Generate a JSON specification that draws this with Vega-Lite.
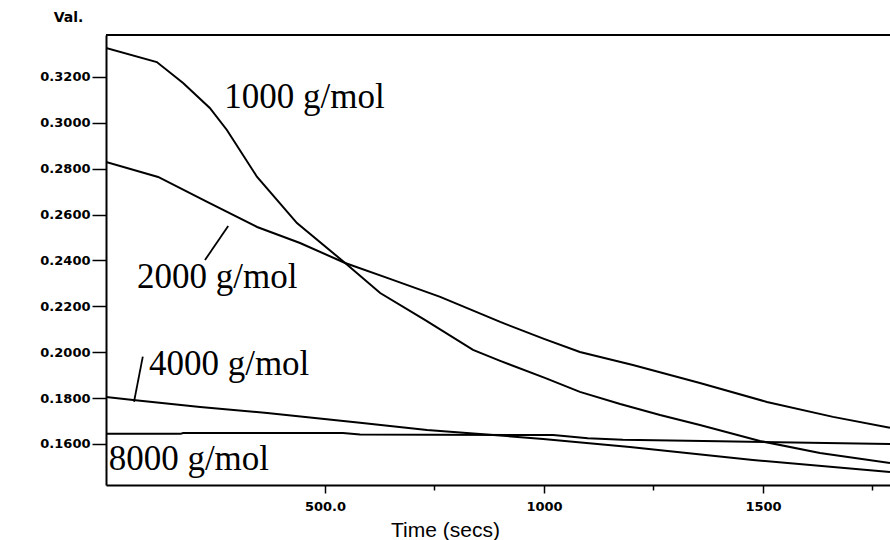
{
  "$schema": "https://vega.github.io/schema/vega-lite/v6.json",
  "autosize": {"type": "none"},
  "padding": {"left": 106, "top": 35, "right": 0, "bottom": 55},
  "width": 784,
  "height": 450,
  "background": "white",
  "config": {"view": {"stroke": null}},
  "datasets": {
    "curves": [
      {"t": 0, "v": 0.3326, "s": "1000"},
      {"t": 116, "v": 0.3265, "s": "1000"},
      {"t": 176, "v": 0.3174, "s": "1000"},
      {"t": 237, "v": 0.3065, "s": "1000"},
      {"t": 276, "v": 0.2969, "s": "1000"},
      {"t": 345, "v": 0.2764, "s": "1000"},
      {"t": 436, "v": 0.2563, "s": "1000"},
      {"t": 546, "v": 0.2389, "s": "1000"},
      {"t": 626, "v": 0.2258, "s": "1000"},
      {"t": 728, "v": 0.2141, "s": "1000"},
      {"t": 838, "v": 0.2010, "s": "1000"},
      {"t": 900, "v": 0.1962, "s": "1000"},
      {"t": 1002, "v": 0.1888, "s": "1000"},
      {"t": 1082, "v": 0.1827, "s": "1000"},
      {"t": 1174, "v": 0.1774, "s": "1000"},
      {"t": 1265, "v": 0.1726, "s": "1000"},
      {"t": 1356, "v": 0.1683, "s": "1000"},
      {"t": 1493, "v": 0.1613, "s": "1000"},
      {"t": 1630, "v": 0.1561, "s": "1000"},
      {"t": 1790, "v": 0.1517, "s": "1000"},
      {"t": 0, "v": 0.2829, "s": "2000"},
      {"t": 119, "v": 0.2764, "s": "2000"},
      {"t": 231, "v": 0.2655, "s": "2000"},
      {"t": 345, "v": 0.2546, "s": "2000"},
      {"t": 443, "v": 0.2476, "s": "2000"},
      {"t": 546, "v": 0.2389, "s": "2000"},
      {"t": 642, "v": 0.2324, "s": "2000"},
      {"t": 763, "v": 0.2241, "s": "2000"},
      {"t": 900, "v": 0.2132, "s": "2000"},
      {"t": 1000, "v": 0.2058, "s": "2000"},
      {"t": 1082, "v": 0.2001, "s": "2000"},
      {"t": 1203, "v": 0.1944, "s": "2000"},
      {"t": 1356, "v": 0.1866, "s": "2000"},
      {"t": 1509, "v": 0.1783, "s": "2000"},
      {"t": 1660, "v": 0.1718, "s": "2000"},
      {"t": 1790, "v": 0.1670, "s": "2000"},
      {"t": 0, "v": 0.1805, "s": "4000"},
      {"t": 62, "v": 0.1792, "s": "4000"},
      {"t": 215, "v": 0.1761, "s": "4000"},
      {"t": 368, "v": 0.1735, "s": "4000"},
      {"t": 580, "v": 0.1692, "s": "4000"},
      {"t": 733, "v": 0.1661, "s": "4000"},
      {"t": 884, "v": 0.1639, "s": "4000"},
      {"t": 998, "v": 0.1622, "s": "4000"},
      {"t": 1196, "v": 0.1587, "s": "4000"},
      {"t": 1477, "v": 0.1530, "s": "4000"},
      {"t": 1790, "v": 0.1478, "s": "4000"},
      {"t": 0, "v": 0.1644, "s": "8000"},
      {"t": 170, "v": 0.1644, "s": "8000"},
      {"t": 176, "v": 0.1648, "s": "8000"},
      {"t": 541, "v": 0.1648, "s": "8000"},
      {"t": 580, "v": 0.1641, "s": "8000"},
      {"t": 1021, "v": 0.1639, "s": "8000"},
      {"t": 1100, "v": 0.1625, "s": "8000"},
      {"t": 1180, "v": 0.1618, "s": "8000"},
      {"t": 1400, "v": 0.1612, "s": "8000"},
      {"t": 1790, "v": 0.1600, "s": "8000"}
    ],
    "labels": [
      {"t": 270, "v": 0.3065, "text": "1000 g/mol"},
      {"t": 71, "v": 0.2280, "text": "2000 g/mol"},
      {"t": 98, "v": 0.1901, "text": "4000 g/mol"},
      {"t": 6, "v": 0.1487, "text": "8000 g/mol"}
    ],
    "connectors": [
      {"t": 279, "v": 0.2550, "t2": 226, "v2": 0.2402},
      {"t": 84, "v": 0.1981, "t2": 64, "v2": 0.1784}
    ],
    "frame": [{"v": 0.3383}]
  },
  "layer": [
    {
      "data": {"name": "curves"},
      "mark": {"type": "line", "color": "black", "strokeWidth": 2, "clip": true},
      "encoding": {
        "x": {
          "field": "t", "type": "quantitative",
          "scale": {"domain": [0, 1790], "nice": false, "zero": false},
          "axis": {
            "values": [500, 750, 1000, 1250, 1500, 1750],
            "labelExpr": "datum.value == 500 ? '500.0' : (datum.value % 500 == 0 ? format(datum.value, 'd') : '')",
            "tickSize": {"condition": {"test": "datum.value % 500 == 0", "value": 8}, "value": 5},
            "labelPadding": 7,
            "labelFont": "DejaVu Sans", "labelFontWeight": "bold", "labelFontSize": 13, "labelColor": "black",
            "labelBaseline": "top",
            "domainColor": "black", "domainWidth": 2, "tickColor": "black", "tickWidth": 1.5,
            "grid": false,
            "title": "Time (secs)",
            "titleFont": "Liberation Sans", "titleFontWeight": "normal", "titleFontSize": 21, "titleColor": "black",
            "titleX": 339, "titleY": 51, "titleAlign": "center", "titleBaseline": "alphabetic"
          }
        },
        "y": {
          "field": "v", "type": "quantitative",
          "scale": {"domain": [0.1421, 0.3383], "nice": false, "zero": false},
          "axis": {
            "values": [0.16, 0.17, 0.18, 0.19, 0.2, 0.21, 0.22, 0.23, 0.24, 0.25, 0.26, 0.27, 0.28, 0.29, 0.3, 0.31, 0.32, 0.33],
            "labelExpr": "round(datum.value * 100) % 2 == 0 ? format(datum.value, '.4f') : ''",
            "tickSize": {"condition": {"test": "round(datum.value * 100) % 2 == 0", "value": 14}, "value": 6},
            "labelPadding": 2,
            "labelFont": "DejaVu Sans", "labelFontWeight": "bold", "labelFontSize": 13, "labelColor": "black",
            "domainColor": "black", "domainWidth": 2, "tickColor": "black", "tickWidth": 1.5,
            "grid": false,
            "title": "Val.",
            "titleAngle": 0, "titleX": -38, "titleY": -18, "titleAlign": "center", "titleBaseline": "middle",
            "titleFont": "DejaVu Sans", "titleFontWeight": "bold", "titleFontSize": 14, "titleColor": "black"
          }
        },
        "detail": {"field": "s", "type": "nominal"}
      }
    },
    {
      "data": {"name": "labels"},
      "mark": {"type": "text", "align": "left", "baseline": "alphabetic", "font": "Liberation Serif", "fontSize": 35, "color": "black"},
      "encoding": {
        "x": {"field": "t", "type": "quantitative"},
        "y": {"field": "v", "type": "quantitative"},
        "text": {"field": "text"}
      }
    },
    {
      "data": {"name": "connectors"},
      "mark": {"type": "rule", "color": "black", "strokeWidth": 1.8},
      "encoding": {
        "x": {"field": "t", "type": "quantitative"},
        "y": {"field": "v", "type": "quantitative"},
        "x2": {"field": "t2"},
        "y2": {"field": "v2"}
      }
    },
    {
      "data": {"name": "frame"},
      "mark": {"type": "rule", "color": "black", "strokeWidth": 2},
      "encoding": {
        "y": {"field": "v", "type": "quantitative"}
      }
    }
  ]
}
